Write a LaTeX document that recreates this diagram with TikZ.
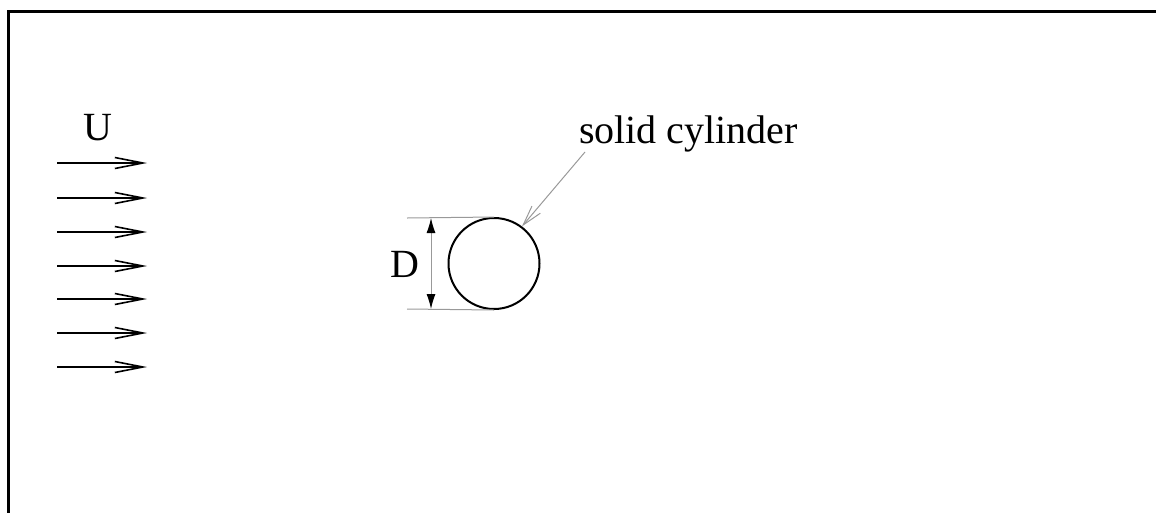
\documentclass[tikz,border=0pt]{standalone}
\usepackage{fontspec}
\setmainfont{Liberation Serif}
\usetikzlibrary{arrows.meta}
\begin{document}
\begin{tikzpicture}[x=1pt,y=-1pt,
  frame/.style={line width=3pt},
  flow/.style={line width=1.6pt,-{Straight Barb[length=28pt,width=11pt]}},
  ext/.style={draw=gray!80,line width=1pt},
  dim/.style={draw=gray!80,line width=1pt,{Latex[length=15pt,width=9pt,color=black]}-{Latex[length=15pt,width=9pt,color=black]}},
  leader/.style={draw=gray!80,line width=1pt,-{Straight Barb[length=20pt,width=11pt]}},
  lab/.style={font=\fontsize{40}{48}\selectfont,inner sep=0pt}]
\useasboundingbox (0,0) rectangle (1156,512);
% frame (only top and left edges visible)
\coordinate (tr) at (1160,11);
\coordinate (tl) at (8,11);
\coordinate (bl) at (8,516);
\draw[frame] (tr) -- (tl) -- (bl);
% free stream
\node[lab,anchor=base] (U) at (98,140) {U};
\foreach \i/\yy in {1/163,2/198,3/232,4/266,5/299,6/333,7/367}{
  \coordinate (s\i) at (57,\yy);
  \coordinate (e\i) at (147,\yy);
  \draw[flow] (s\i) -- (e\i);
}
% cylinder
\node[circle,draw,line width=2pt,minimum size=91pt,inner sep=0pt] (cyl) at (494,263.5) {};
\coordinate (x1) at (407,218);
\coordinate (x2) at (407,309);
\draw[ext] (x1) -- (cyl.north);
\draw[ext] (x2) -- (cyl.south);
\coordinate (d1) at (431,218);
\coordinate (d2) at (431,309);
\draw[dim] (d1) -- (d2);
\node[lab,anchor=base] (D) at (405,277) {D};
% label
\node[lab,anchor=base] (lbl) at (688.5,143) {solid cylinder};
\coordinate (ls) at (585,152);
\draw[leader] (ls) -- (cyl.53);
\end{tikzpicture}
\end{document}
